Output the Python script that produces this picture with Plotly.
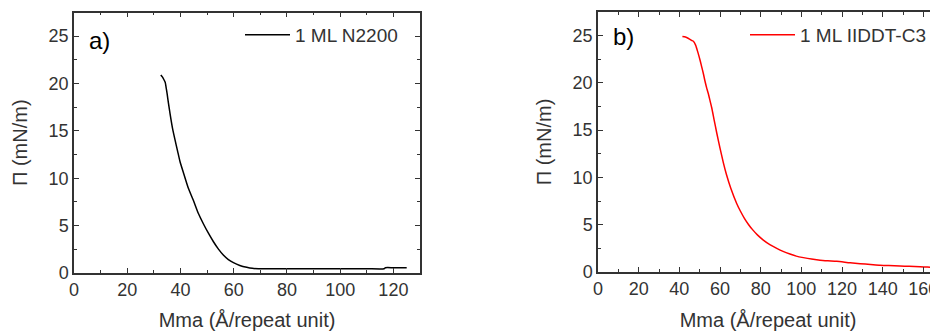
import plotly.graph_objects as go

# ---- data ----
mma_a = [32.6, 33.2, 33.8, 34.3, 34.6, 35.0, 35.5, 36.1, 37.0, 38.0, 38.9, 39.8, 41.1,
         42.9, 44.8, 46.7, 48.6, 50.5, 52.4, 54.2, 56.1, 58.0, 59.9, 62.3, 64.9,
         67.0, 69.3, 75, 80, 90, 100, 110, 116.5, 117.0, 120, 125]
pi_a = [20.9, 20.7, 20.4, 20.1, 19.6, 18.9, 17.9, 16.8, 15.3, 14.0, 12.9, 11.8, 10.6,
        9.0, 7.7, 6.3, 5.2, 4.2, 3.3, 2.55, 1.9, 1.42, 1.09, 0.8, 0.6,
        0.49, 0.45, 0.45, 0.45, 0.45, 0.45, 0.45, 0.45, 0.56, 0.56, 0.56]

mma_b = [41.5, 43.0, 44.5, 46.0, 46.9, 48.0, 49.3, 50.2, 51.0, 51.8, 52.6, 53.4, 54.2,
         55.0, 55.9, 57.1, 58.4, 60.0, 61.6, 63.2, 65.3, 68.2, 70.0, 72.0, 74.0,
         76.0, 78.5, 81.3, 84.5, 87.9, 91.0, 94.4, 97.5, 101.0, 105.0, 109.2, 113.0,
         117.4, 124.0, 128.9, 134, 138.7, 143, 148.5, 153, 158.4, 162, 165.4]
pi_b = [24.9, 24.85, 24.7, 24.5, 24.4, 24.0, 23.1, 22.4, 21.7, 21.0, 20.2, 19.5, 18.9,
        18.2, 17.4, 16.1, 14.7, 13.1, 11.6, 10.29, 8.86, 7.25, 6.45, 5.68, 5.03,
        4.48, 3.9, 3.38, 2.9, 2.5, 2.18, 1.9, 1.68, 1.52, 1.37, 1.24, 1.18,
        1.13, 0.97, 0.88, 0.8, 0.72, 0.68, 0.64, 0.6, 0.55, 0.52, 0.5]

name_a = "1 ML N2200"
name_b = "1 ML IIDDT-C3"
x_title = "Mma (Å/repeat unit)"
y_title = "Π (mN/m)"
x_ticks_a = [0, 20, 40, 60, 80, 100, 120]
x_ticks_b = [0, 20, 40, 60, 80, 100, 120, 140, 160]
y_ticks = [0, 5, 10, 15, 20, 25]

# page body has an 8px margin, so the figure is drawn from (8, 8)
OFF = 8
W, H = 938 - OFF, 331 - OFF
FONT = "Liberation Sans, Arial, sans-serif"
AX = "#333333"


def fx(px):
    return (px - OFF) / W


def fy(py):
    return (H - (py - OFF)) / H


fig = go.Figure()
fig.add_trace(go.Scatter(x=mma_a, y=pi_a, mode="lines", name=name_a,
                         line=dict(color="black", width=1.5, shape="spline", smoothing=0.6),
                         xaxis="x", yaxis="y", legend="legend"))
fig.add_trace(go.Scatter(x=mma_b, y=pi_b, mode="lines", name=name_b,
                         line=dict(color="#ff0000", width=1.5, shape="spline", smoothing=0.6),
                         xaxis="x2", yaxis="y2", legend="legend2"))


def xax(rng, ticks, domain, anchor, mirror):
    return dict(range=rng, domain=domain, anchor=anchor, automargin=False,
                tickmode="array", tickvals=ticks, ticktext=[str(t) for t in ticks],
                ticks="inside", ticklen=5, tickwidth=1, tickcolor=AX,
                ticklabeloverflow="allow",
                minor=dict(dtick=10, tick0=0, ticks="inside", ticklen=3, tickcolor=AX, showgrid=False),
                showline=True, linecolor=AX, linewidth=1.5, mirror=mirror,
                showgrid=False, zeroline=False,
                tickfont=dict(family=FONT, size=18, color=AX),
                title=dict(text=x_title, font=dict(family=FONT, size=20, color=AX), standoff=15))


def yax(domain, anchor, mirror):
    return dict(range=[0, 27.5], domain=domain, anchor=anchor, automargin=False,
                tickmode="array", tickvals=y_ticks, ticktext=[str(t) for t in y_ticks],
                ticks="inside", ticklen=5, tickwidth=1, tickcolor=AX,
                ticklabeloverflow="allow",
                minor=dict(dtick=2.5, tick0=0, ticks="inside", ticklen=3, tickcolor=AX, showgrid=False),
                showline=True, linecolor=AX, linewidth=1.5, mirror=mirror,
                showgrid=False, zeroline=False,
                tickfont=dict(family=FONT, size=18, color=AX),
                title=dict(text=y_title, font=dict(family=FONT, size=20, color=AX), standoff=16))


fig.update_layout(
    width=W, height=H,
    margin=dict(l=0, r=0, t=0, b=0, autoexpand=False),
    paper_bgcolor="white", plot_bgcolor="white",
    font=dict(family=FONT, color=AX),
    xaxis=xax([0, 130], x_ticks_a, [fx(74), fx(420)], "y", "ticks"),
    yaxis=yax([fy(273), fy(12.5)], "x", "ticks"),
    xaxis2=xax([0, 167.2], x_ticks_b, [fx(598), 1.0], "y2", "ticks"),
    yaxis2=yax([fy(272), fy(12)], "x2", False),
    legend=dict(x=fx(240), y=fy(35), xanchor="left", yanchor="middle", itemwidth=45,
                bgcolor="rgba(0,0,0,0)", font=dict(family=FONT, size=19, color=AX)),
    legend2=dict(x=fx(745), y=fy(35), xanchor="left", yanchor="middle", itemwidth=45,
                 bgcolor="rgba(0,0,0,0)", font=dict(family=FONT, size=19, color=AX)),
    showlegend=True,
    annotations=[
        dict(text="a)", x=fx(87), y=fy(40), xref="paper", yref="paper",
             xanchor="left", yanchor="middle", showarrow=False,
             font=dict(family=FONT, size=24, color="black")),
        dict(text="b)", x=fx(611), y=fy(36), xref="paper", yref="paper",
             xanchor="left", yanchor="middle", showarrow=False,
             font=dict(family=FONT, size=24, color="black")),
    ],
)

fig.write_html("out.html")
